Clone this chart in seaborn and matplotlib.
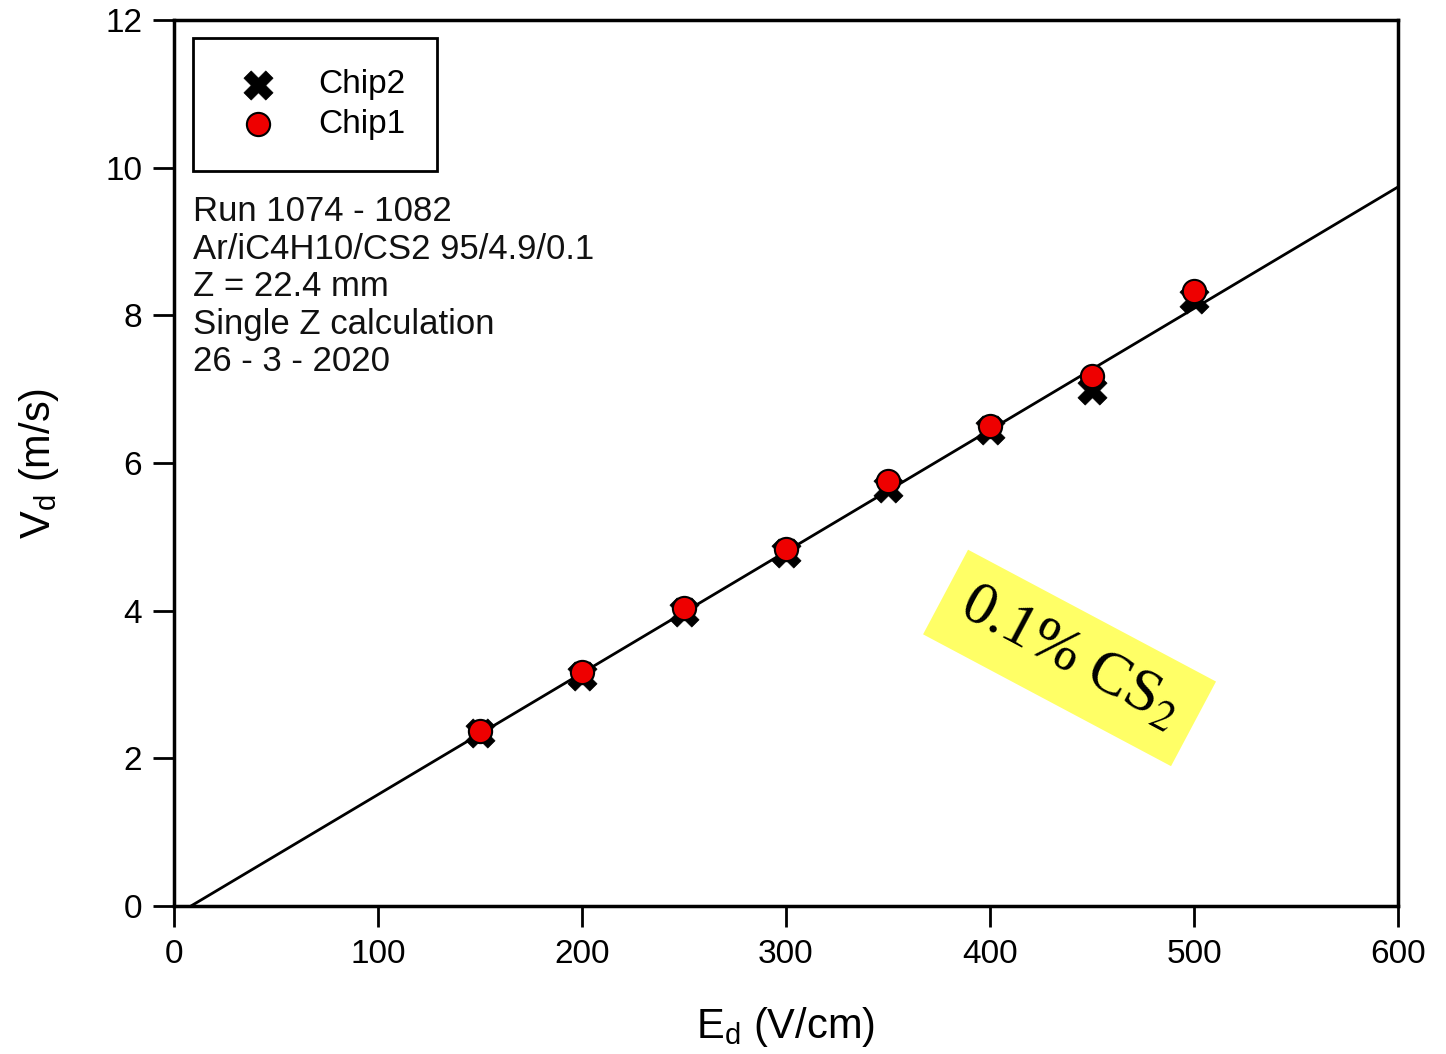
import numpy as np
import pandas as pd
import matplotlib
matplotlib.use("Agg")
import matplotlib.pyplot as plt
import seaborn as sns

# ---- data ----
field = [150, 200, 250, 300, 350, 400, 450, 500]
chip1 = [2.37, 3.17, 4.04, 4.84, 5.76, 6.50, 7.18, 8.33]
chip2 = [2.34, 3.12, 3.98, 4.78, 5.66, 6.45, 6.99, 8.22]
fit_slope = 0.01646
fit_intercept = -0.137
x_ticks = [0, 100, 200, 300, 400, 500, 600]
y_ticks = [0, 2, 4, 6, 8, 10, 12]
info_lines = ["Run 1074 - 1082", "Ar/iC4H10/CS2 95/4.9/0.1", "Z = 22.4 mm",
              "Single Z calculation", "26 - 3 - 2020"]

sns.set_theme(style="white")
plt.rcParams['font.family'] = ['Liberation Sans', 'DejaVu Sans']
plt.rcParams['mathtext.fontset'] = 'custom'
plt.rcParams['mathtext.rm'] = 'Liberation Sans'
plt.rcParams['mathtext.it'] = 'Liberation Sans'
plt.rcParams['text.color'] = 'black'

fig = plt.figure(figsize=(14.46, 10.54), dpi=100)
ax = fig.add_axes([0.1203, 0.1404, 0.8465, 0.8406])

df1 = pd.DataFrame({"E": field, "V": chip1})
df2 = pd.DataFrame({"E": field, "V": chip2})

x0 = -fit_intercept / fit_slope
fit_x = np.array([x0, 600.0])
fit_df = pd.DataFrame({"E": fit_x, "V": fit_slope * fit_x + fit_intercept})
sns.lineplot(data=fit_df, x="E", y="V", ax=ax, color="black", lw=2, zorder=2)

sns.scatterplot(data=df2, x="E", y="V", ax=ax, marker="X", s=440, color="black",
                edgecolor="black", linewidth=0.5, label="Chip2", zorder=3)
sns.scatterplot(data=df1, x="E", y="V", ax=ax, marker="o", s=280, color="#ee0000",
                edgecolor="black", linewidth=1.5, label="Chip1", zorder=4)

ax.set_xlim(0, 600)
ax.set_ylim(0, 12)
ax.set_xticks(x_ticks)
ax.set_yticks(y_ticks)
ax.tick_params(axis='both', direction='out', length=15, width=2, labelsize=24,
               colors='black', bottom=True, left=True)
ax.tick_params(axis='x', pad=9)
ax.tick_params(axis='y', pad=8)
for sp in ax.spines.values():
    sp.set_visible(True)
    sp.set_color('black')
    sp.set_linewidth(2.5)

ax.set_xlabel(r"E$_{\mathrm{d}}$ (V/cm)", fontsize=30, color='black')
ax.set_ylabel(r"V$_{\mathrm{d}}$ (m/s)", fontsize=30, color='black')
ax.xaxis.set_label_coords(0.5, -0.112)
ax.yaxis.set_label_coords(-0.092, 0.5)

leg = ax.legend(loc='upper left', bbox_to_anchor=(0.0155, 0.98), fontsize=24,
                frameon=True, fancybox=False, edgecolor='black', framealpha=1,
                borderpad=0.95, handletextpad=0.8, labelspacing=0.25,
                borderaxespad=0)
leg.get_frame().set_linewidth(2)
for t in leg.get_texts():
    t.set_color('black')

ax.text(0.0155, 0.802, "\n".join(info_lines), transform=ax.transAxes,
        fontsize=25, va='top', ha='left', linespacing=1.17, color='#111111')

ax.text(439, 3.36, r"0.1% CS$_2$", rotation=-28, rotation_mode='anchor',
        ha='center', va='center', fontsize=44, family='Liberation Serif',
        math_fontfamily='stix', color='black',
        bbox=dict(boxstyle='square,pad=0.33', facecolor='#ffff66', edgecolor='none'),
        zorder=5)

fig.savefig("out.png", dpi=100, facecolor='white')
